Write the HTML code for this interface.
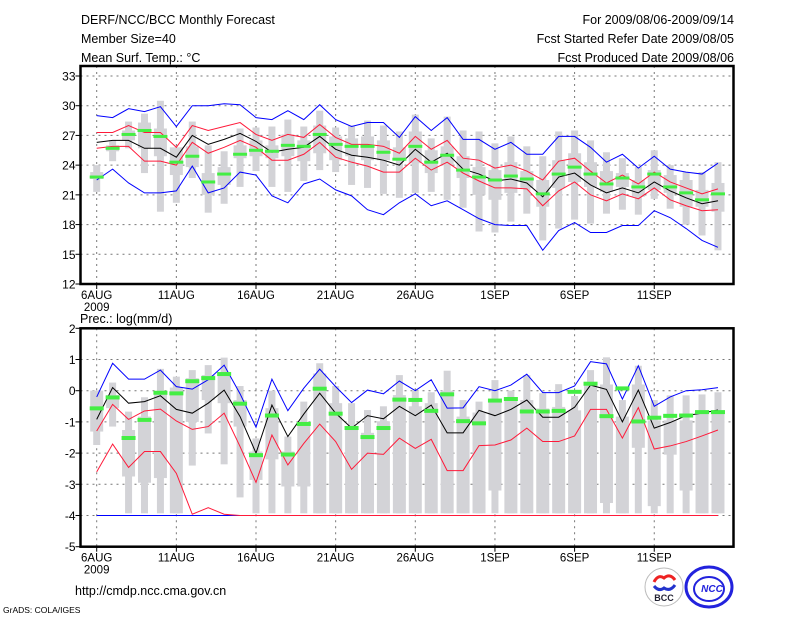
<!DOCTYPE html>
<html><head><meta charset="utf-8">
<style>
html,body{margin:0;padding:0;background:#fff;}
svg{display:block;}
text{font-family:"Liberation Sans","DejaVu Sans",sans-serif;}
</style></head>
<body>
<svg id="chart" width="800" height="618" viewBox="0 0 800 618" xmlns="http://www.w3.org/2000/svg">
<rect width="800" height="618" fill="#fff"/>
<g font-size="12.5" fill="#000">
<text x="81" y="24">DERF/NCC/BCC Monthly Forecast</text>
<text x="81" y="43">Member Size=40</text>
<text x="81" y="62">Mean Surf. Temp.: °C</text>
</g>
<g font-size="12.5" fill="#000" text-anchor="end">
<text x="734" y="24">For 2009/08/06-2009/09/14</text>
<text x="734" y="43">Fcst Started Refer Date 2009/08/05</text>
<text x="734" y="62">Fcst Produced Date 2009/08/06</text>
</g>
<text x="80" y="323" font-size="12.5">Prec.: log(mm/d)</text>
<text x="75" y="595" font-size="12.5">http://cmdp.ncc.cma.gov.cn</text>
<text x="3" y="613" font-size="8.5">GrADS: COLA/IGES</text>
<g>
<circle cx="664" cy="587" r="19" fill="#fff" stroke="#bbb" stroke-width="1"/>
<path d="M654,582 q4,-8 10,-4 q6,-5 11,2" fill="none" stroke="#e22" stroke-width="3"/>
<path d="M654,586 q5,6 10,2 q6,4 11,-3" fill="none" stroke="#23c" stroke-width="3"/>
<text x="664" y="601" font-size="9" font-weight="bold" text-anchor="middle" fill="#223">BCC</text>
</g>
<g>
<ellipse cx="709" cy="587" rx="23" ry="20" fill="#fff" stroke="#22d" stroke-width="3"/>
<ellipse cx="709" cy="589" rx="15" ry="12" fill="none" stroke="#22d" stroke-width="2"/>
<text x="712" y="592" font-size="10" font-style="italic" font-weight="bold" text-anchor="middle" fill="#22d">NCC</text>
</g>
<g id="top"></g>
<g id="bot"></g>
</svg>
<script>
// ---- shared ----
const dayLabels = ["6AUG","11AUG","16AUG","21AUG","26AUG","1SEP","6SEP","11SEP"];
// ---- temperature data ----
const tTicks = [12,15,18,21,24,27,30,33];
const tBlueHi = [29.0,28.8,29.7,29.4,29.9,27.9,30.0,30.0,30.2,30.1,28.8,28.6,29.5,28.6,30.1,28.6,27.9,28.3,28.3,26.8,28.9,27.5,28.8,26.6,26.6,25.6,26.3,25.1,25.1,26.9,26.9,25.8,24.3,25.1,23.7,24.9,23.6,23.3,23.1,24.2];
const tRedHi = [27.3,27.3,28.0,27.3,27.3,25.8,28.0,27.5,27.9,28.3,27.1,26.5,27.1,26.8,28.1,26.8,26.1,26.1,25.9,25.2,26.9,25.6,26.5,24.7,24.5,23.7,24.0,23.4,22.5,24.4,24.7,23.4,22.2,23.0,22.1,23.3,22.3,21.7,21.1,21.6];
const tMean = [26.3,26.5,26.5,25.7,25.7,24.8,27.0,26.1,26.6,27.2,26.4,25.3,25.6,25.8,26.9,25.6,25.0,24.8,24.5,24.0,25.6,24.3,25.2,23.6,23.1,22.4,22.6,22.2,20.8,22.8,23.2,22.0,21.2,21.7,21.2,22.3,21.4,20.7,20.1,20.4];
const tRedLo = [25.7,25.9,25.9,24.4,24.4,24.0,26.3,25.2,25.8,26.5,25.8,24.5,24.5,25.1,26.3,24.8,24.3,23.9,23.3,23.3,24.7,23.5,24.3,23.2,22.4,21.7,21.7,21.6,19.9,21.4,22.3,21.0,20.4,21.1,20.6,21.7,20.5,19.9,19.4,19.5];
const tBlueLo = [22.5,23.6,22.2,21.2,21.2,21.4,23.9,21.2,21.7,23.3,23.0,20.9,20.2,22.1,22.6,21.5,20.9,19.5,19.0,20.2,21.1,19.9,20.4,19.5,18.6,18.0,17.9,17.9,15.4,17.4,18.2,17.2,17.2,17.9,17.9,19.4,18.7,17.6,16.4,15.7];
const tGreen = [22.8,25.7,27.1,27.5,26.9,24.3,24.9,22.3,23.1,25.1,25.5,25.4,26.0,25.9,27.1,26.1,25.9,25.9,25.3,24.6,25.9,24.3,25.0,23.5,22.8,22.5,22.9,22.6,21.1,23.1,23.8,23.1,22.1,22.7,21.8,23.1,21.8,21.2,20.5,21.1];
const tWhiskHi = [24.0,26.5,28.4,29.2,30.5,25.0,28.4,26.0,25.4,27.7,27.8,27.9,28.6,27.9,29.5,27.8,28.0,28.5,28.0,27.4,29.1,26.7,28.9,27.5,27.4,26.2,26.9,25.9,24.9,27.4,27.5,26.5,25.3,24.7,23.8,25.5,24.0,23.3,23.3,24.3];
const tWhiskLo = [21.3,24.4,25.7,23.2,19.3,20.2,22.7,19.2,20.1,21.8,23.4,21.8,21.3,22.4,23.5,23.3,22.0,21.7,21.1,20.7,21.2,21.3,20.5,19.7,17.3,17.2,18.3,19.1,16.4,17.6,18.5,18.1,19.1,19.5,19.0,20.6,19.6,18.0,16.9,15.4];
const tBoxHi = [23.3,26.0,27.5,28.3,27.7,25.8,25.9,23.2,23.8,26.0,26.5,26.0,27.1,26.5,28.0,26.9,26.7,26.9,26.5,25.8,27.4,25.5,25.9,24.9,23.8,23.5,24.3,23.4,22.5,24.5,25.2,24.3,23.4,23.2,22.5,23.5,23.0,22.5,21.5,22.2];
const tBoxLo = [22.6,25.4,26.5,25.7,24.9,23.0,23.8,21.0,22.0,24.7,24.9,24.7,24.9,24.4,25.2,24.5,24.9,24.5,24.5,24.5,24.2,23.2,24.0,22.7,21.0,20.5,21.2,21.7,19.8,21.7,22.3,21.8,21.3,21.8,20.8,21.5,21.2,19.8,19.8,19.3];
// ---- precipitation data ----
const pTicks = [-5,-4,-3,-2,-1,0,1,2];
const pBlueHi = [-0.2,0.88,0.37,0.37,0.66,0.13,0.05,0.35,0.82,-0.1,-1.17,0.37,-0.64,0.08,0.69,0.13,-0.38,0.02,-0.1,0.31,0.0,0.35,-0.56,-0.55,0.13,0.0,0.18,0.53,-0.06,-0.06,0.15,0.93,0.86,-0.27,0.8,-0.5,-0.2,0.0,0.03,0.1];
const pMean = [-0.92,0.1,-0.4,-0.35,-0.16,-0.6,-0.72,-0.4,0.02,-0.83,-2.0,-0.46,-1.47,-0.75,-0.08,-0.72,-1.2,-0.8,-0.9,-0.5,-0.8,-0.46,-1.35,-1.35,-0.63,-0.8,-0.6,-0.3,-0.85,-0.85,-0.53,0.18,0.04,-1.0,0.02,-1.2,-1.02,-0.8,-0.72,-0.62];
const pRedHi = [-1.29,-0.44,-0.92,-0.65,-0.59,-0.97,-1.24,-1.15,-0.72,-1.79,-2.94,-1.42,-2.38,-1.69,-1.07,-1.63,-2.52,-2.0,-2.04,-1.52,-1.85,-1.56,-2.56,-2.56,-1.76,-1.74,-1.58,-1.2,-1.63,-1.63,-1.45,-0.6,-0.6,-1.52,-0.54,-1.87,-1.77,-1.63,-1.45,-1.26];
const pRedLo = [-2.6,-1.71,-2.46,-1.95,-1.95,-2.65,-3.96,-3.75,-3.96,-4,-4,-4,-4,-4,-4,-4,-4,-4,-4,-4,-4,-4,-4,-4,-4,-4,-4,-4,-4,-4,-4,-4,-4,-4,-4,-4,-4,-4,-4,-4];
const pBlueLo = [-4,-4,-4,-4,-4,-4,-4,-4,-4,-4,-4,-4,-4,-4,-4,-4,-4,-4,-4,-4,-4,-4,-4,-4,-4,-4,-4,-4,-4,-4,-4,-4,-4,-4,-4,-4,-4,-4,-4,-4];
const pGreen = [-0.55,-0.2,-1.5,-0.92,-0.05,-0.07,0.32,0.42,0.55,-0.4,-2.05,-0.78,-2.03,-1.05,0.08,-0.72,-1.18,-1.47,-1.18,-0.27,-0.28,-0.63,-0.1,-0.96,-1.03,-0.3,-0.25,-0.65,-0.65,-0.63,-0.02,0.24,-0.8,0.09,-0.97,-0.85,-0.79,-0.78,-0.67,-0.67];
const pWhiskHi = [0.0,0.26,-0.67,-0.21,0.7,0.45,0.66,0.82,1.06,0.15,-1.53,0.0,-1.47,-0.35,0.88,0.15,-0.4,-0.62,-0.5,0.5,0.0,-0.05,0.64,-0.3,-0.35,0.34,0.0,0.5,-0.08,0.21,-0.17,0.66,1.07,-0.3,0.8,-0.3,-0.15,-0.15,-0.12,-0.05];
const pWhiskLo = [-1.74,-1.15,-3.93,-3.93,-3.93,-3.93,-2.4,-1.37,-2.36,-3.42,-3.93,-3.93,-3.93,-3.93,-3.93,-3.93,-3.93,-3.93,-3.93,-3.93,-3.93,-3.93,-3.93,-3.93,-3.93,-3.93,-3.93,-3.93,-3.93,-3.93,-3.93,-3.93,-3.93,-3.93,-3.93,-3.93,-3.93,-3.93,-3.93,-3.93];
const pBoxHi = [0.0,-0.14,-1.26,-0.83,-0.03,0.1,0.4,0.5,0.6,-0.3,-1.95,-0.56,-1.95,-1.0,0.55,-0.4,-1.15,-1.35,-0.98,-0.14,-0.5,-0.4,0.0,-0.83,-0.7,-0.3,-0.3,-0.3,-0.57,-0.52,-0.63,0.18,0.2,-0.83,0.2,-0.95,-0.95,-0.95,-0.72,-0.63];
const pBoxLo = [-1.31,-0.56,-2.75,-2.95,-2.8,-3.93,-1.0,-0.3,-0.4,-1.15,-2.86,-2.2,-3.07,-3.07,-3.93,-3.93,-3.93,-3.93,-3.93,-3.93,-3.93,-3.93,-3.93,-3.93,-3.93,-3.2,-3.93,-3.93,-3.93,-3.93,-3.93,-3.93,-3.6,-3.93,-1.83,-3.7,-2.05,-3.2,-3.93,-3.93];

const NS = "http://www.w3.org/2000/svg";
const X0 = 96.7, DX = 15.93;
function xOf(i){ return X0 + i*DX; }
function mk(tag, attrs, parent){
  const e = document.createElementNS(NS, tag);
  for (const k in attrs) e.setAttribute(k, attrs[k]);
  parent.appendChild(e); return e;
}
function panel(g, frameTop, top, bottom, vmin, vmax, ticks, S){
  const yOf = v => bottom - (v - vmin)/(vmax - vmin)*(bottom - top);
  const L = 80.5, R = 733.5;
  ticks.forEach(t => {
    if (t===vmin || yOf(t) <= frameTop+1) return;
    const l = mk('line',{x1:L,x2:R,y1:yOf(t),y2:yOf(t),stroke:'#777','stroke-width':1,'stroke-dasharray':'2,4'},g);
    
    
  });
  dayLabels.forEach((d,k) => {
    const x = xOf(k*5);
    const l = mk('line',{x1:x,x2:x,y1:frameTop,y2:bottom,stroke:'#777','stroke-width':1,'stroke-dasharray':'2,4'},g);
    
    
  });
  for (let i=0;i<S.mean.length;i++){
    const x = xOf(i);
    const w = mk('rect',{x:x-3.5,width:7,y:yOf(S.wh[i]),height:Math.max(1,yOf(S.wl[i])-yOf(S.wh[i])),fill:'#d3d3d7'},g);
    
    
    const b = mk('rect',{x:x-6.5,width:13,y:yOf(S.bh[i]),height:Math.max(1,yOf(S.bl[i])-yOf(S.bh[i])),fill:'#d3d3d7'},g);
    
    
  }
  const line = (arr,col,name) => {
    const p = mk('polyline',{points:arr.map((v,i)=>xOf(i)+','+yOf(v)).join(' '),fill:'none',stroke:col,'stroke-width':1},g);
    
    
  };
  line(S.blo,'#0000ff','lower-blue-line');
  line(S.rlo,'#ff1a3a','lower-red-line');
  line(S.bhi,'#0000ff','upper-blue-line');
  line(S.rhi,'#ff1a3a','upper-red-line');
  line(S.mean,'#000','ensemble-mean-line');
  for (let i=0;i<S.green.length;i++){
    const r = mk('rect',{x:xOf(i)-7,width:14,y:yOf(S.green[i])-1.5,height:S.gh,fill:'#44ee44'},g);
    
    
  }
  const f = mk('rect',{x:L,y:frameTop,width:R-L,height:bottom-frameTop,fill:'none',stroke:'#000','stroke-width':2.5},g);
  
  
  ticks.forEach(t => {
    const tk = mk('line',{x1:L-5,x2:L,y1:yOf(t),y2:yOf(t),stroke:'#000','stroke-width':1},g);
    
    
    const tx = mk('text',{x:L-5,y:yOf(t)+4.5,'text-anchor':'end','font-size':12},g);
    tx.textContent = String(t);
    
    
  });
  dayLabels.forEach((d,k) => {
    const x = xOf(k*5);
    const tk = mk('line',{x1:x,x2:x,y1:bottom,y2:bottom+5,stroke:'#000','stroke-width':1},g);
    
    
    const tx = mk('text',{x:x,y:bottom+15,'text-anchor':'middle','font-size':11.5},g);
    tx.textContent = d;
    
    
  });
  const yr = mk('text',{x:xOf(0),y:bottom+27,'text-anchor':'middle','font-size':11.5},g);
  yr.textContent = '2009';
  
  
}
panel(document.getElementById('top'), 66, 76, 284, 12, 33, tTicks,
  {bhi:tBlueHi,rhi:tRedHi,mean:tMean,rlo:tRedLo,blo:tBlueLo,green:tGreen,wh:tWhiskHi,wl:tWhiskLo,bh:tBoxHi,bl:tBoxLo,gh:3});
panel(document.getElementById('bot'), 328.3, 328.3, 546.7, -5, 2, pTicks,
  {bhi:pBlueHi,rhi:pRedHi,mean:pMean,rlo:pRedLo,blo:pBlueLo,green:pGreen,wh:pWhiskHi,wl:pWhiskLo,bh:pBoxHi,bl:pBoxLo,gh:4});
</script>
</body></html>
